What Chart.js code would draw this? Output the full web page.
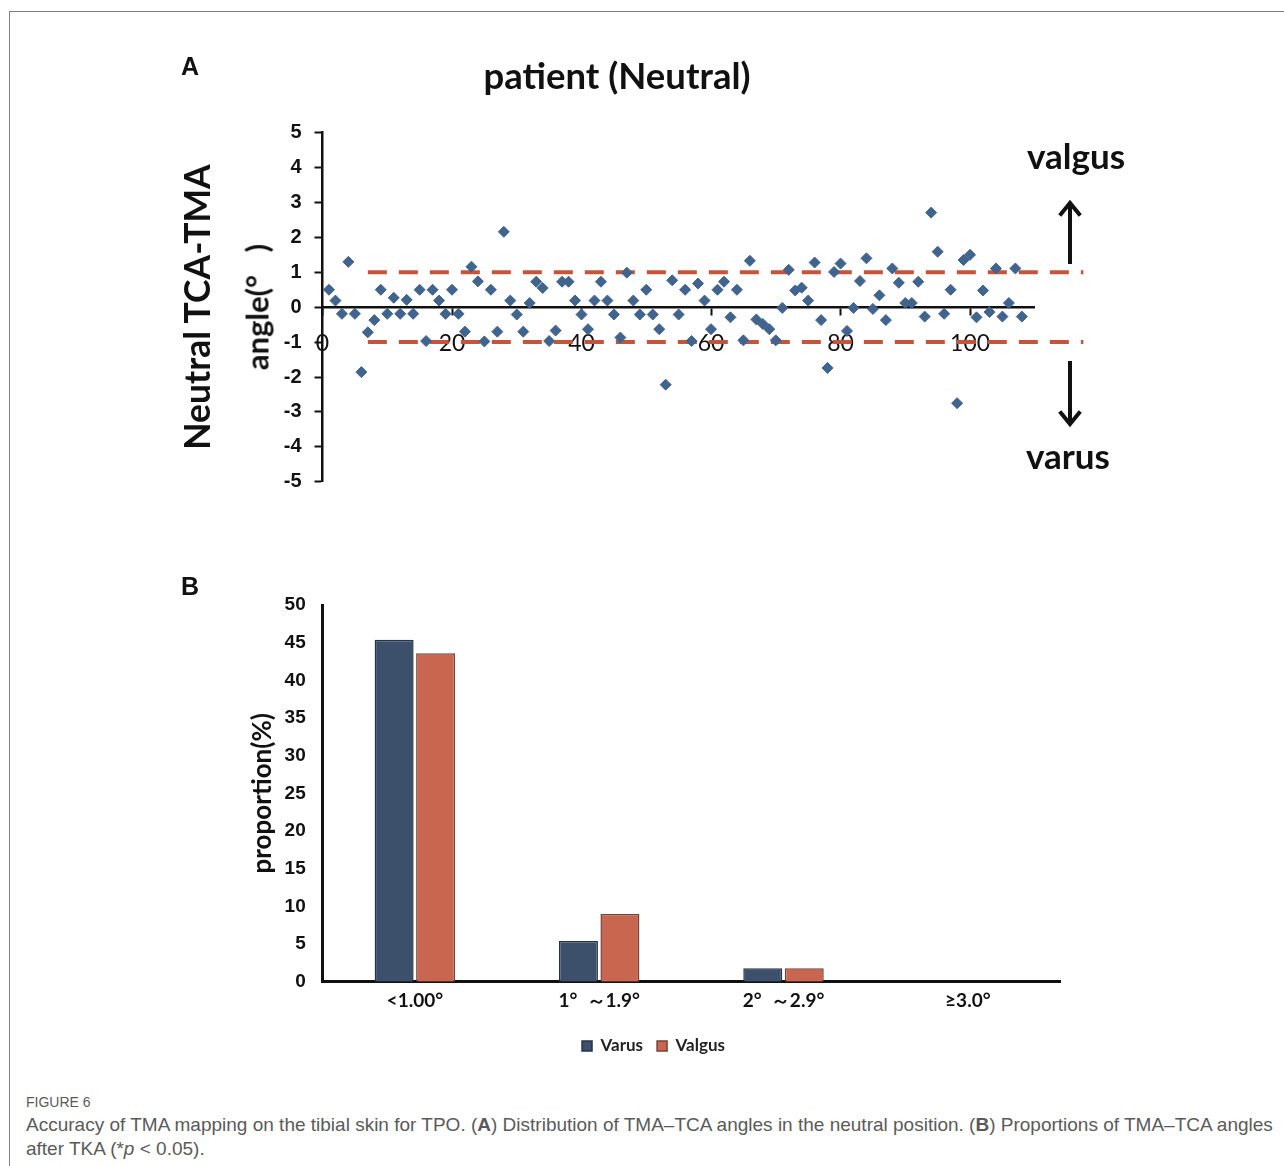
<!DOCTYPE html>
<html>
<head>
<meta charset="utf-8">
<script src="https://cdn.jsdelivr.net/npm/chart.js@4.4.1/dist/chart.umd.min.js"></script>
<style>
  html, body { margin: 0; padding: 0; background: #fff; overflow: hidden; }
  body { width: 1284px; height: 1166px; position: relative; font-family: Lato, "Liberation Sans", sans-serif; }
  .frame { position: absolute; left: 9px; top: 11px; width: 1400px; height: 1300px; border-top: 1px solid #808080; border-left: 1px solid #808080; }
  canvas { position: absolute; left: 0; }
  .panel { position: absolute; left: 181px; font: bold 25px "Liberation Sans", Arial, sans-serif; line-height: 1; color: #111; }
  .rot { position: absolute; white-space: nowrap; line-height: 1; color: #111; font-weight: bold; transform: translate(-50%, -50%) rotate(-90deg); }
  .side { position: absolute; white-space: nowrap; line-height: 1; color: #111; font: bold 35px Lato, sans-serif; transform: translate(-50%, -50%); }
  .caption { position: absolute; left: 26px; color: #5a5a5a; font-family: "Liberation Sans", Arial, sans-serif; white-space: nowrap; }
  svg { position: absolute; left: 0; top: 0; }
</style>
</head>
<body>
<div class="frame"></div>
<canvas id="neutralChart" width="1234" height="540" style="top:0"></canvas>
<canvas id="proportionChart" width="1306" height="520" style="top:560px"></canvas>

<div class="panel" style="top:54px">A</div>
<div class="panel" style="top:574px">B</div>

<div class="rot" style="left:197px; top:307px; font-size:35.5px;">Neutral TCA-TMA</div>
<div class="rot" style="left:257px; top:307px; font-size:31px;">angle(°&nbsp;&nbsp;&nbsp;)</div>

<div class="side" style="left:1076px; top:155px;">valgus</div>
<div class="side" style="left:1068px; top:455px;">varus</div>
<svg width="1284" height="540">
  <g stroke="#111" stroke-width="4" fill="none" stroke-linecap="square">
    <line x1="1070" y1="262" x2="1070" y2="204"/>
    <polyline points="1061,214 1070,203 1079,214"/>
    <line x1="1070" y1="363" x2="1070" y2="423"/>
    <polyline points="1061,413 1070,424 1079,413"/>
  </g>
</svg>

<div class="caption" style="top:1094px; font-size:14px;">FIGURE 6</div>
<div class="caption" style="top:1113px; font-size:19px; line-height:24px;">
  Accuracy of TMA mapping on the tibial skin for TPO. (<b>A</b>) Distribution of TMA–TCA angles in the neutral position. (<b>B</b>) Proportions of TMA–TCA angles<br>after TKA (*<i>p</i> &lt; 0.05).
</div>

<script>
// panel A: TCA-TMA angle per patient (neutral position)
const angleDeviation = [
  0.50, 0.19, -0.19, 1.30, -0.19, -1.86, -0.72, -0.37, 0.50, -0.19,
  0.27, -0.19, 0.21, -0.19, 0.50, -0.97, 0.50, 0.19, -0.19, 0.50,
  -0.19, -0.70, 1.16, 0.74, -0.98, 0.50, -0.70, 2.16, 0.19, -0.21,
  -0.70, 0.12, 0.73, 0.55, -0.97, -0.67, 0.73, 0.73, 0.19, -0.21,
  -0.63, 0.19, 0.73, 0.19, -0.21, -0.87, 0.99, 0.19, -0.21, 0.50,
  -0.21, -0.63, -2.22, 0.77, -0.21, 0.50, -0.97, 0.68, 0.19, -0.63,
  0.50, 0.73, -0.29, 0.50, -0.95, 1.33, -0.35, -0.48, -0.63, -0.95,
  -0.02, 1.07, 0.48, 0.56, 0.19, 1.28, -0.37, -1.74, 1.01, 1.25,
  -0.68, -0.02, 0.75, 1.40, -0.05, 0.34, -0.37, 1.11, 0.70, 0.12,
  0.12, 0.73, -0.27, 2.71, 1.59, -0.19, 0.50, -2.75, 1.35, 1.50,
  -0.29, 0.48, -0.14, 1.11, -0.27, 0.12, 1.11, -0.27
];
const upperLimit = 1;
const lowerLimit = -1;
const limitFrom = 7;
const limitTo = 117.5;

// panel B: proportion of angles per range
const categories = ['<1.00°', '1°  ～1.9°', '2°  ～2.9°', '≥3.0°'];
const varusPct = [45.4, 5.4, 1.8, 0];
const valgusPct = [43.6, 9.0, 1.8, 0];

Chart.defaults.font.family = 'Lato, "Liberation Sans", sans-serif';
Chart.defaults.color = '#111';
Chart.defaults.animation = false;

const tickFont = { family: '"Liberation Sans", Arial, sans-serif', size: 20, weight: 'bold' };

const ctx1 = document.getElementById('neutralChart').getContext('2d');
const ctx2 = document.getElementById('proportionChart').getContext('2d');

const limitLine = (y) => ({
  data: [{ x: limitFrom, y: y }, { x: limitTo, y: y }],
  showLine: true,
  borderColor: '#c4553a',
  borderWidth: 4,
  borderDash: [19, 12],
  pointRadius: 0,
  clip: false
});

new Chart(ctx1, {
  type: 'scatter',
  data: {
    datasets: [
      {
        data: angleDeviation.map((v, i) => ({ x: i + 1, y: v })),
        pointStyle: 'rectRot',
        pointRadius: 5.5,
        backgroundColor: '#41648e',
        borderColor: '#41648e',
        borderWidth: 1
      },
      limitLine(upperLimit),
      limitLine(lowerLimit)
    ]
  },
  options: {
    responsive: false,
    layout: { padding: { left: 199.2, right: 199.2, top: 0, bottom: 58.3 } },
    plugins: {
      legend: { display: false },
      tooltip: { enabled: false },
      title: {
        display: true,
        text: 'patient (Neutral)',
        font: { size: 36.5, weight: 'bold' },
        color: '#111',
        padding: { top: 55, bottom: 33.9 }
      }
    },
    scales: {
      x: {
        type: 'linear',
        position: { y: 0 },
        min: 0,
        max: 110,
        border: { color: '#111', width: 2.5 },
        grid: { drawOnChartArea: false, color: '#111', tickLength: 7, tickWidth: 2 },
        ticks: { stepSize: 20, includeBounds: false, padding: 16, font: { size: 23 }, color: '#111' }
      },
      y: {
        min: -5,
        max: 5,
        afterFit: (scale) => { scale.width = 123.3; },
        border: { color: '#111', width: 2.5 },
        grid: { drawOnChartArea: false, color: '#111', tickLength: 8, tickWidth: 2 },
        ticks: { stepSize: 1, padding: 13, font: tickFont, color: '#111' }
      }
    }
  }
});

new Chart(ctx2, {
  type: 'bar',
  data: {
    labels: categories,
    datasets: [
      {
        label: 'Varus',
        data: varusPct,
        backgroundColor: '#3c4f6b',
        borderColor: '#26344a',
        borderWidth: 1.5
      },
      {
        label: 'Valgus',
        data: valgusPct,
        backgroundColor: '#c8664f',
        borderColor: '#7a4236',
        borderWidth: 1.5
      }
    ]
  },
  options: {
    responsive: false,
    categoryPercentage: 0.45,
    barPercentage: 0.94,
    layout: { padding: { left: 247, right: 246, top: 45, bottom: 15.5 } },
    plugins: {
      tooltip: { enabled: false },
      legend: {
        position: 'bottom',
        labels: { boxWidth: 10, boxHeight: 10, padding: 14, font: { size: 17, weight: 'bold' }, color: '#222' }
      }
    },
    scales: {
      x: {
        afterFit: (scale) => { scale.height = 41.8; },
        border: { color: '#111', width: 3 },
        grid: { display: false, drawTicks: false },
        ticks: { padding: 8, font: { size: 19, weight: 'bold' }, color: '#111' }
      },
      y: {
        min: 0,
        max: 50,
        afterFit: (scale) => { scale.width = 75.7; },
        border: { color: '#111', width: 3 },
        grid: { display: false, drawTicks: false },
        ticks: { stepSize: 5, padding: 17, font: { ...tickFont, size: 19 }, color: '#111' },
        title: {
          display: true,
          text: 'proportion(%)',
          font: { size: 26, weight: 'bold' },
          color: '#111',
          padding: { top: 0, bottom: 0 }
        }
      }
    }
  }
});
</script>
</body>
</html>
